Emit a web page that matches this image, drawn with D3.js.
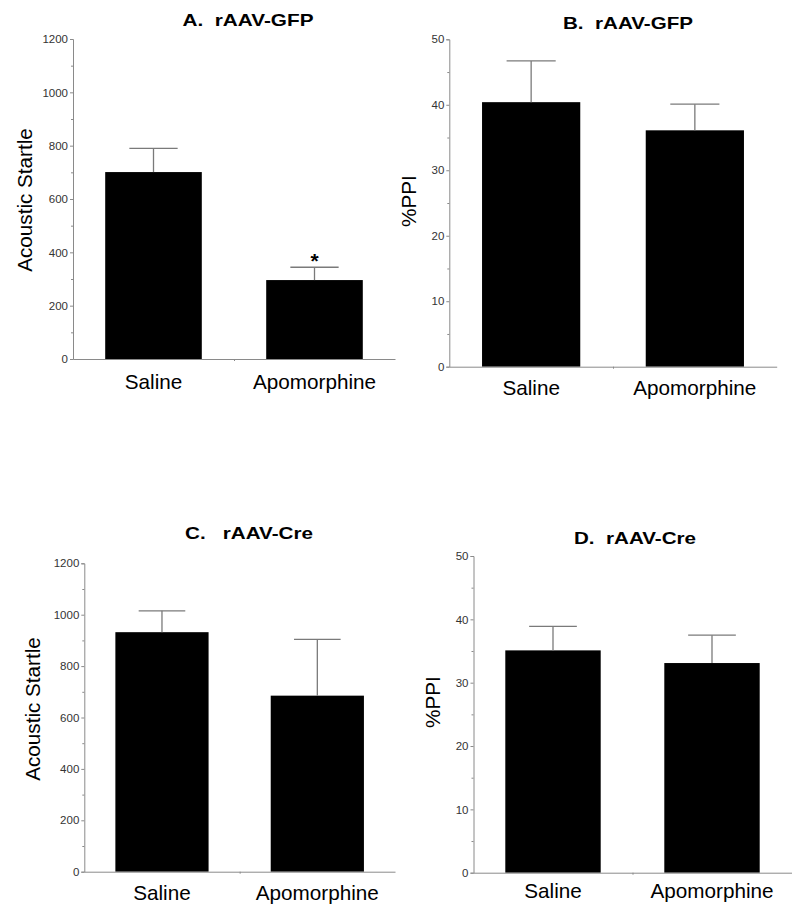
<!DOCTYPE html>
<html>
<head>
<meta charset="utf-8">
<script src="https://cdn.jsdelivr.net/npm/d3@7"></script>
<style>
  html, body { margin: 0; padding: 0; background: #fff; }
  svg { display: block; }
  text { font-family: "Liberation Sans", Arial, Helvetica, sans-serif; }
</style>
</head>
<body>
<svg id="chart" width="800" height="916"></svg>
<script>
// ---------------- data ----------------
const categories = ["Saline", "Apomorphine"];

const startleGFPMean = [701, 296];
const startleGFPSem  = [89, 48];
const ppiGFPMean     = [40.4, 36.1];
const ppiGFPSem      = [6.3, 4.0];
const startleCreMean = [932, 685];
const startleCreSem  = [83, 219];
const ppiCreMean     = [35.1, 33.1];
const ppiCreSem      = [3.8, 4.4];

const startleGFPSig = [false, true];
const ppiGFPSig     = [false, false];
const startleCreSig = [false, false];
const ppiCreSig     = [false, false];

const startleTicks      = [0, 200, 400, 600, 800, 1000, 1200];
const startleMinorTicks = [100, 300, 500, 700, 900, 1100];
const ppiTicks          = [0, 10, 20, 30, 40, 50];
const ppiMinorTicks     = [5, 15, 25, 35, 45];

const panelTitles = ["A.  rAAV-GFP", "B.  rAAV-GFP", "C.   rAAV-Cre", "D.  rAAV-Cre"];
const yLabels = ["Acoustic Startle", "%PPI", "Acoustic Startle", "%PPI"];

// ---------------- layout ----------------
const panels = [
  { mean: startleGFPMean, sem: startleGFPSem, sig: startleGFPSig, ticks: startleTicks, minor: startleMinorTicks, max: 1200,
    x0: 73, x1: 395, yTop: 39, y0: 359, tx: 248, ty: 26, tlen: 131, lx: 32, ly: 200, cy: 389 },
  { mean: ppiGFPMean, sem: ppiGFPSem, sig: ppiGFPSig, ticks: ppiTicks, minor: ppiMinorTicks, max: 50,
    x0: 449.3, x1: 776.7, yTop: 39.3, y0: 366.7, tx: 628, ty: 29, tlen: 130, lx: 416, ly: 201, cy: 395 },
  { mean: startleCreMean, sem: startleCreSem, sig: startleCreSig, ticks: startleTicks, minor: startleMinorTicks, max: 1200,
    x0: 84.3, x1: 395, yTop: 563.3, y0: 871.7, tx: 249, ty: 539, tlen: 128, lx: 39.5, ly: 709, cy: 900 },
  { mean: ppiCreMean, sem: ppiCreSem, sig: ppiCreSig, ticks: ppiTicks, minor: ppiMinorTicks, max: 50,
    x0: 473.5, x1: 791.5, yTop: 556, y0: 872.7, tx: 635, ty: 544, tlen: 122, lx: 440, ly: 702, cy: 898 }
];

const svg = d3.select("#chart");
const axisColor = "#8a8a8a";
const errColor = "#7a7a7a";

panels.forEach((p, i) => {
  const g = svg.append("g");
  const x = d3.scaleBand().domain(categories).range([p.x0, p.x1]).paddingInner(0.4).paddingOuter(0.2);
  const y = d3.scaleLinear().domain([0, p.max]).range([p.y0, p.yTop]);

  // bars
  g.selectAll("rect.bar").data(categories).join("rect")
    .attr("class", "bar")
    .attr("x", d => x(d))
    .attr("width", x.bandwidth())
    .attr("y", (d, k) => y(p.mean[k]))
    .attr("height", (d, k) => y(0) - y(p.mean[k]))
    .attr("fill", "#000");

  // error bars (upper only)
  const capW = x.bandwidth() / 2;
  categories.forEach((c, k) => {
    const cx = x(c) + x.bandwidth() / 2;
    g.append("line").attr("x1", cx).attr("x2", cx)
      .attr("y1", y(p.mean[k])).attr("y2", y(p.mean[k] + p.sem[k]))
      .attr("stroke", errColor).attr("stroke-width", 1.3);
    g.append("line").attr("x1", cx - capW / 2).attr("x2", cx + capW / 2)
      .attr("y1", y(p.mean[k] + p.sem[k])).attr("y2", y(p.mean[k] + p.sem[k]))
      .attr("stroke", errColor).attr("stroke-width", 1.3);
    if (p.sig[k]) {
      g.append("text").attr("x", cx).attr("y", y(p.mean[k] + p.sem[k]) + 1)
        .attr("text-anchor", "middle").attr("font-size", 21).attr("font-weight", "bold")
        .text("*");
    }
  });

  // y axis
  const yAxis = d3.axisLeft(y).tickValues(p.ticks).tickSize(3).tickPadding(2).tickFormat(d3.format("d"));
  const ya = g.append("g").attr("transform", `translate(${p.x0},0)`).call(yAxis);
  ya.select(".domain").attr("stroke", axisColor);
  ya.selectAll(".tick line").attr("stroke", axisColor);
  ya.selectAll(".tick text").attr("fill", "#333").attr("font-size", 11.5)
    .attr("font-family", "'Liberation Sans', Arial, sans-serif");
  const yMinor = d3.axisLeft(y).tickValues(p.minor).tickSize(2).tickFormat("");
  const ym = g.append("g").attr("transform", `translate(${p.x0},0)`).call(yMinor);
  ym.select(".domain").remove();
  ym.selectAll(".tick line").attr("stroke", axisColor);

  // x axis
  const xl = d3.scaleLinear().domain([0, 1]).range([p.x0, p.x1]);
  const xAxis = d3.axisBottom(xl).tickValues([0.5]).tickSize(2).tickSizeOuter(0).tickFormat("");
  const xa = g.append("g").attr("transform", `translate(0,${p.y0})`).call(xAxis);
  xa.select(".domain").attr("stroke", axisColor);
  xa.selectAll(".tick line").attr("stroke", axisColor);

  // category labels
  g.selectAll("text.cat").data(categories).join("text")
    .attr("class", "cat")
    .attr("x", d => x(d) + x.bandwidth() / 2)
    .attr("y", p.cy)
    .attr("text-anchor", "middle")
    .attr("font-size", 20.7)
    .attr("fill", "#000")
    .text(d => d);

  // y label
  g.append("text")
    .attr("transform", `translate(${p.lx},${p.ly}) rotate(-90)`)
    .attr("text-anchor", "middle")
    .attr("font-size", 20.7)
    .attr("fill", "#000")
    .text(yLabels[i]);

  // title
  g.append("text")
    .attr("x", p.tx - p.tlen / 2)
    .attr("y", p.ty)
    .attr("font-size", 16.5)
    .attr("font-weight", "bold")
    .attr("textLength", p.tlen)
    .attr("lengthAdjust", "spacingAndGlyphs")
    .style("white-space", "pre")
    .attr("fill", "#000")
    .text(panelTitles[i]);
});
</script>
</body>
</html>
